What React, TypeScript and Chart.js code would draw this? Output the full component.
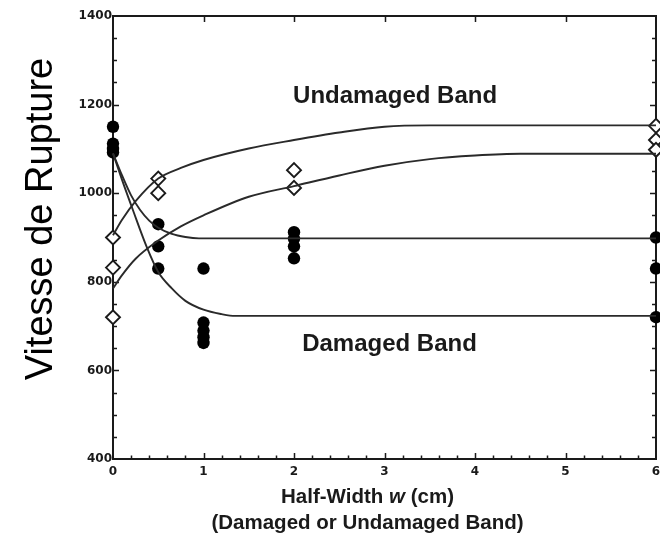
import React, { useEffect, useRef } from 'react';
import { Chart, registerables } from 'chart.js';

Chart.register(...registerables);

// ---- Data ----
const DAMAGED_X = [0, 0, 0, 0, 0.5, 0.5, 0.5, 1, 1, 1, 1, 1, 2, 2, 2, 2, 6, 6, 6];
const DAMAGED_Y = [1150, 1112, 1100, 1092, 930, 880, 830, 830, 708, 690, 675, 662, 912, 897, 880, 853, 900, 830, 720];

const UNDAMAGED_X = [0, 0, 0, 0.5, 0.5, 2, 2, 6, 6, 6];
const UNDAMAGED_Y = [900, 832, 720, 1033, 1000, 1052, 1012, 1152, 1120, 1098];

// fitted curves
const CURVE_UA_X = [0, 0.1, 0.25, 0.5, 0.75, 1, 1.5, 2, 2.5, 3, 3.5, 6];
const CURVE_UA_Y = [905, 940, 982, 1033, 1057, 1075, 1101, 1120, 1137, 1150, 1153, 1153];

const CURVE_UB_X = [0, 0.1, 0.25, 0.5, 0.75, 1, 1.5, 2, 2.5, 3, 3.5, 4, 4.5, 6];
const CURVE_UB_Y = [785, 815, 852, 893, 925, 950, 992, 1016, 1040, 1062, 1077, 1085, 1089, 1089];

const CURVE_DA_X = [0, 0.1, 0.2, 0.3, 0.4, 0.5, 0.65, 0.8, 0.95, 6];
const CURVE_DA_Y = [1090, 1040, 995, 962, 938, 922, 908, 901, 898, 898];

const CURVE_DB_X = [0, 0.1, 0.22, 0.37, 0.5, 0.65, 0.8, 1.0, 1.2, 1.35, 6];
const CURVE_DB_Y = [1090, 1030, 962, 880, 822, 785, 757, 737, 727, 723, 723];

const X_MIN = 0;
const X_MAX = 6;
const X_STEP = 1;
const X_MINOR = 0.2;
const Y_MIN = 400;
const Y_MAX = 1400;
const Y_STEP = 200;
const Y_MINOR = 50;

const LABEL_UNDAMAGED = 'Undamaged Band';
const LABEL_UNDAMAGED_POS = { x: 1.99, y: 1204 };
const LABEL_DAMAGED = 'Damaged Band';
const LABEL_DAMAGED_POS = { x: 2.09, y: 644 };

const Y_TITLE = 'Vitesse de Rupture';
const X_TITLE_PARTS = ['Half-Width ', 'w', ' (cm)'];
const X_TITLE_2 = '(Damaged or Undamaged Band)';

const pts = (xs: number[], ys: number[]) => xs.map((x, i) => ({ x, y: ys[i] }));

const SANS = '"Liberation Sans", Arial, Helvetica, sans-serif';
const INK = '#1a1a1a';

const framePlugin = {
  id: 'frameTicks',
  beforeDatasetsDraw(chart: any) {
    const { ctx, chartArea } = chart;
    const xs = chart.scales.x;
    const ys = chart.scales.y;
    const { left, right, top, bottom } = chartArea;
    ctx.save();
    ctx.strokeStyle = INK;
    ctx.lineWidth = 2;
    ctx.beginPath();
    ctx.moveTo(left - 1, top);
    ctx.lineTo(right, top);
    ctx.lineTo(right, bottom + 1);
    ctx.stroke();
    ctx.lineWidth = 1.5;
    ctx.beginPath();
    const nx = Math.round((X_MAX - X_MIN) / X_MINOR);
    for (let i = 1; i < nx; i++) {
      const v = X_MIN + i * X_MINOR;
      const px = Math.round(xs.getPixelForValue(v)) + 0.5;
      const major = Math.abs(v / X_STEP - Math.round(v / X_STEP)) < 1e-6;
      const len = major ? 6 : 3.5;
      ctx.moveTo(px, bottom);
      ctx.lineTo(px, bottom - len);
      if (major) {
        ctx.moveTo(px, top);
        ctx.lineTo(px, top + 6);
      }
    }
    const ny = Math.round((Y_MAX - Y_MIN) / Y_MINOR);
    for (let i = 1; i < ny; i++) {
      const v = Y_MIN + i * Y_MINOR;
      const py = Math.round(ys.getPixelForValue(v)) + 0.5;
      const major = v % Y_STEP === 0;
      const len = major ? 6 : 4;
      ctx.moveTo(left, py);
      ctx.lineTo(left + len, py);
      ctx.moveTo(right, py);
      ctx.lineTo(right - len, py);
    }
    ctx.stroke();
    ctx.restore();
  },
  afterDraw(chart: any) {
    const { ctx, chartArea } = chart;
    const xs = chart.scales.x;
    const ys = chart.scales.y;
    ctx.save();
    ctx.fillStyle = INK;
    ctx.font = `bold 24px ${SANS}`;
    ctx.textAlign = 'left';
    ctx.textBaseline = 'alphabetic';
    ctx.fillText(LABEL_UNDAMAGED, xs.getPixelForValue(LABEL_UNDAMAGED_POS.x), ys.getPixelForValue(LABEL_UNDAMAGED_POS.y));
    ctx.fillText(LABEL_DAMAGED, xs.getPixelForValue(LABEL_DAMAGED_POS.x), ys.getPixelForValue(LABEL_DAMAGED_POS.y));

    const cx = (chartArea.left + chartArea.right) / 2 - 17;
    const fonts = [`bold 20.5px ${SANS}`, `italic bold 20.5px ${SANS}`, `bold 20.5px ${SANS}`];
    let total = 0;
    const widths = X_TITLE_PARTS.map((t, i) => {
      ctx.font = fonts[i];
      const w = ctx.measureText(t).width;
      total += w;
      return w;
    });
    let x0 = cx - total / 2;
    X_TITLE_PARTS.forEach((t, i) => {
      ctx.font = fonts[i];
      ctx.fillText(t, x0, 503);
      x0 += widths[i];
    });
    ctx.font = `bold 20.5px ${SANS}`;
    ctx.textAlign = 'center';
    ctx.fillText(X_TITLE_2, cx, 529);

    ctx.save();
    ctx.translate(52, 219);
    ctx.rotate(-Math.PI / 2);
    ctx.font = `38px ${SANS}`;
    ctx.textAlign = 'center';
    ctx.textBaseline = 'alphabetic';
    ctx.fillStyle = '#000';
    ctx.fillText(Y_TITLE, 0, 0);
    ctx.restore();
    ctx.restore();
  },
};

const curve = (xs: number[], ys: number[]) => ({
  data: pts(xs, ys),
  showLine: true,
  borderColor: '#2a2a2a',
  borderWidth: 1.9,
  pointRadius: 0,
  cubicInterpolationMode: 'monotone' as const,
  fill: false,
  clip: false as const,
});

const tickFont = { family: '"DejaVu Sans", sans-serif', weight: 'bold' as const, size: 12 };

export default function App() {
  const ref = useRef<HTMLCanvasElement>(null);
  useEffect(() => {
    document.body.style.margin = '0';
    const canvas = ref.current!;
    const chart = new Chart(canvas, {
      type: 'scatter',
      data: {
        datasets: [
          curve(CURVE_UA_X, CURVE_UA_Y),
          curve(CURVE_UB_X, CURVE_UB_Y),
          curve(CURVE_DA_X, CURVE_DA_Y),
          curve(CURVE_DB_X, CURVE_DB_Y),
          {
            data: pts(UNDAMAGED_X, UNDAMAGED_Y),
            pointStyle: 'rectRot',
            pointRadius: 7,
            pointBackgroundColor: '#ffffff',
            pointBorderColor: '#1a1a1a',
            pointBorderWidth: 1.9,
            showLine: false,
            clip: false,
          } as any,
          {
            data: pts(DAMAGED_X, DAMAGED_Y),
            pointStyle: 'circle',
            pointRadius: 6.2,
            pointBackgroundColor: '#000000',
            pointBorderColor: '#000000',
            pointBorderWidth: 0,
            showLine: false,
            clip: false,
          } as any,
        ],
      },
      options: {
        responsive: false,
        animation: false,
        events: [],
        layout: { autoPadding: false, padding: { top: 16, right: 4, left: 0, bottom: 0 } },
        plugins: { legend: { display: false }, tooltip: { enabled: false } },
        scales: {
          x: {
            type: 'linear',
            min: X_MIN,
            max: X_MAX,
            ticks: {
              stepSize: X_STEP,
              color: INK,
              padding: 6,
              maxRotation: 0,
              font: tickFont,
              callback: (v: any) => String(v),
            },
            grid: { display: false, drawTicks: false },
            border: { display: true, color: INK, width: 2 },
            afterFit: (s: any) => {
              s.height = 77;
              s.paddingLeft = 0;
              s.paddingRight = 0;
            },
          },
          y: {
            type: 'linear',
            min: Y_MIN,
            max: Y_MAX,
            ticks: {
              stepSize: Y_STEP,
              color: INK,
              padding: 1,
              font: tickFont,
              callback: (v: any) => String(v),
            },
            grid: { display: false, drawTicks: false },
            border: { display: true, color: INK, width: 2 },
            afterFit: (s: any) => {
              s.width = 113;
              s.paddingTop = 0;
              s.paddingBottom = 0;
            },
          },
        },
      } as any,
      plugins: [framePlugin],
    });
    return () => chart.destroy();
  }, []);
  return (
    <div style={{ position: 'absolute', left: 0, top: 0, width: 660, height: 536, background: '#fff' }}>
      <canvas ref={ref} width={660} height={536} style={{ display: 'block' }} />
    </div>
  );
}
